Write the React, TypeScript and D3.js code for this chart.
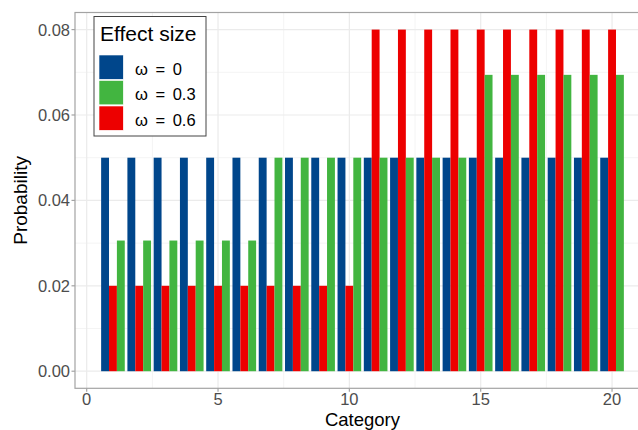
import React, { useRef, useEffect } from 'react';
import * as d3 from 'd3';

// categorias e probabilidades
const categories = d3.range(1, 21);
const omega0 = [0.05, 0.05, 0.05, 0.05, 0.05, 0.05, 0.05, 0.05, 0.05, 0.05, 0.05, 0.05, 0.05, 0.05, 0.05, 0.05, 0.05, 0.05, 0.05, 0.05];
const omega03 = [0.0306, 0.0306, 0.0306, 0.0306, 0.0306, 0.0306, 0.05, 0.05, 0.05, 0.05, 0.05, 0.05, 0.05, 0.05, 0.0694, 0.0694, 0.0694, 0.0694, 0.0694, 0.0694];
const omega06 = [0.02, 0.02, 0.02, 0.02, 0.02, 0.02, 0.02, 0.02, 0.02, 0.02, 0.08, 0.08, 0.08, 0.08, 0.08, 0.08, 0.08, 0.08, 0.08, 0.08];

const legendLabels = ['ω = 0', 'ω = 0.3', 'ω = 0.6'];
const legendColors = ['#00468B', '#42B540', '#ED0000'];
// ordem das barras dentro de cada grupo (azul, vermelho, verde)
const dodgeOrder = [
  { values: omega0, color: '#00468B' },
  { values: omega06, color: '#ED0000' },
  { values: omega03, color: '#42B540' },
];
const xTicks = [0, 5, 10, 15, 20];
const yTicks = [0, 0.02, 0.04, 0.06, 0.08];

const FONT = "'Liberation Sans', Arial, Helvetica, sans-serif";

const App = () => {
  const svgRef = useRef(null);
  const width = 638;
  const height = 430;

  useEffect(() => {
    const svg = d3.select(svgRef.current)
      .attr('width', width)
      .attr('height', height);

    svg.selectAll('*').remove();

    const left = 75, right = 650, top = 12.5, bottom = 388.3;

    const x = d3.scaleLinear().domain([-0.445, 21.445]).range([left, right]);
    const y = d3.scaleLinear().domain([-0.004, 0.084]).range([bottom, top]);

    svg.append('rect')
      .attr('width', width).attr('height', height).attr('fill', 'white');

    // grade menor
    const xMinor = [2.5, 7.5, 12.5, 17.5];
    const yMinor = [0.01, 0.03, 0.05, 0.07];
    svg.append('g').selectAll('line.vx')
      .data(xMinor).enter().append('line')
      .attr('x1', d => x(d)).attr('x2', d => x(d))
      .attr('y1', top).attr('y2', bottom)
      .attr('stroke', '#f4f4f4').attr('stroke-width', 1);
    svg.append('g').selectAll('line.hy')
      .data(yMinor).enter().append('line')
      .attr('x1', left).attr('x2', right)
      .attr('y1', d => y(d)).attr('y2', d => y(d))
      .attr('stroke', '#f4f4f4').attr('stroke-width', 1);

    // grade maior
    svg.append('g').selectAll('line')
      .data(xTicks).enter().append('line')
      .attr('x1', d => x(d)).attr('x2', d => x(d))
      .attr('y1', top).attr('y2', bottom)
      .attr('stroke', '#ebebeb').attr('stroke-width', 1.2);
    svg.append('g').selectAll('line')
      .data(yTicks).enter().append('line')
      .attr('x1', left).attr('x2', right)
      .attr('y1', d => y(d)).attr('y2', d => y(d))
      .attr('stroke', '#ebebeb').attr('stroke-width', 1.2);

    // barras
    const barW = 0.3;
    dodgeOrder.forEach((s, i) => {
      svg.append('g').selectAll('rect')
        .data(categories).enter().append('rect')
        .attr('x', (d) => x(d - 0.45 + i * barW))
        .attr('width', x(barW) - x(0))
        .attr('y', (d, j) => y(s.values[j]))
        .attr('height', (d, j) => y(0) - y(s.values[j]))
        .attr('fill', s.color);
    });

    // borda do painel
    svg.append('rect')
      .attr('x', left).attr('y', top)
      .attr('width', right - left).attr('height', bottom - top)
      .attr('fill', 'none').attr('stroke', '#a3a3a3').attr('stroke-width', 1.2);

    // eixo Y
    const yAxis = svg.append('g');
    yAxis.selectAll('line')
      .data(yTicks).enter().append('line')
      .attr('x1', left - 3.5).attr('x2', left)
      .attr('y1', d => y(d)).attr('y2', d => y(d))
      .attr('stroke', '#a3a3a3').attr('stroke-width', 1.2);
    yAxis.selectAll('text')
      .data(yTicks).enter().append('text')
      .attr('x', left - 5).attr('y', d => y(d))
      .attr('dy', '0.36em')
      .attr('text-anchor', 'end')
      .attr('font-family', FONT).attr('font-size', 16.5)
      .attr('fill', '#4d4d4d')
      .text(d => d3.format('.2f')(d));

    // eixo X
    const xAxis = svg.append('g');
    xAxis.selectAll('line')
      .data(xTicks).enter().append('line')
      .attr('x1', d => x(d)).attr('x2', d => x(d))
      .attr('y1', bottom).attr('y2', bottom + 3.5)
      .attr('stroke', '#a3a3a3').attr('stroke-width', 1.2);
    xAxis.selectAll('text')
      .data(xTicks).enter().append('text')
      .attr('x', d => x(d)).attr('y', 405)
      .attr('text-anchor', 'middle')
      .attr('font-family', FONT).attr('font-size', 16.5)
      .attr('fill', '#4d4d4d')
      .text(d => d);

    // titulos
    svg.append('text')
      .attr('x', (left + right) / 2).attr('y', 426)
      .attr('text-anchor', 'middle')
      .attr('font-family', FONT).attr('font-size', 18.5)
      .attr('fill', '#000')
      .text('Category');
    svg.append('text')
      .attr('transform', `translate(27, ${(top + bottom) / 2}) rotate(-90)`)
      .attr('text-anchor', 'middle')
      .attr('font-family', FONT).attr('font-size', 19)
      .attr('fill', '#000')
      .text('Probability');

    // legenda
    const lg = svg.append('g');
    lg.append('rect')
      .attr('x', 94).attr('y', 16.5).attr('width', 112).attr('height', 119.5)
      .attr('fill', 'white').attr('stroke', '#444').attr('stroke-width', 1);
    lg.append('text')
      .attr('x', 100).attr('y', 41)
      .attr('font-family', FONT).attr('font-size', 21)
      .attr('fill', '#000')
      .text('Effect size');
    legendLabels.forEach((lab, i) => {
      const ky = 55 + i * 25.5;
      lg.append('rect')
        .attr('x', 99).attr('y', ky).attr('width', 24.3).attr('height', 24.3)
        .attr('fill', legendColors[i])
        .attr('stroke', 'white').attr('stroke-width', 0.6);
      lg.append('text')
        .attr('x', 135).attr('y', ky + 12.2 + 7.6)
        .attr('font-family', FONT).attr('font-size', 16.5)
        .attr('word-spacing', 3)
        .attr('fill', '#000')
        .text(lab);
    });
  }, []);

  return (
    <svg ref={svgRef} style={{ position: 'absolute', left: 0, top: 0 }}></svg>
  );
};

export default App;
